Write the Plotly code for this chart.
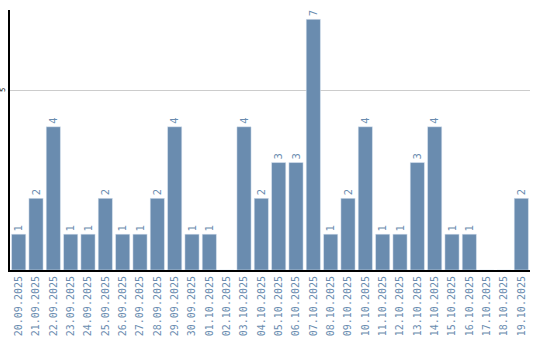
import plotly.graph_objects as go

dates = ["20.09.2025","21.09.2025","22.09.2025","23.09.2025","24.09.2025","25.09.2025",
         "26.09.2025","27.09.2025","28.09.2025","29.09.2025","30.09.2025","01.10.2025",
         "02.10.2025","03.10.2025","04.10.2025","05.10.2025","06.10.2025","07.10.2025",
         "08.10.2025","09.10.2025","10.10.2025","11.10.2025","12.10.2025","13.10.2025",
         "14.10.2025","15.10.2025","16.10.2025","17.10.2025","18.10.2025","19.10.2025"]
counts = [1,2,4,1,1,2,1,1,2,4,1,1,0,4,2,3,3,7,1,2,4,1,1,3,4,1,1,0,0,2]
y_ticks = [5]

color = "rgb(106,140,175)"
labels = [str(v) if v else "" for v in counts]

fig = go.Figure(go.Bar(
    x=dates, y=counts, text=labels, textposition="outside", textangle=-90,
    textfont=dict(family="DejaVu Sans", size=10, color=color),
    marker=dict(color=color), cliponaxis=False,
))
fig.update_layout(
    width=540, height=340, margin=dict(l=10, r=10, t=10, b=70),
    paper_bgcolor="white", plot_bgcolor="white", showlegend=False, bargap=0.18,
    xaxis=dict(type="category", tickangle=-90, showline=True, linecolor="black", linewidth=2,
               showgrid=False, ticks="", automargin=False,
               tickfont=dict(family="DejaVu Sans Mono", size=10, color=color)),
    yaxis=dict(range=[0, 7.26], tickvals=y_ticks, tickangle=-90, showline=True, linecolor="black",
               linewidth=2, showgrid=True, gridcolor="#cccccc", gridwidth=1, zeroline=False, ticks="",
               automargin=False, tickfont=dict(family="DejaVu Sans", size=7, color="black")),
)
fig.write_html("out.html")
